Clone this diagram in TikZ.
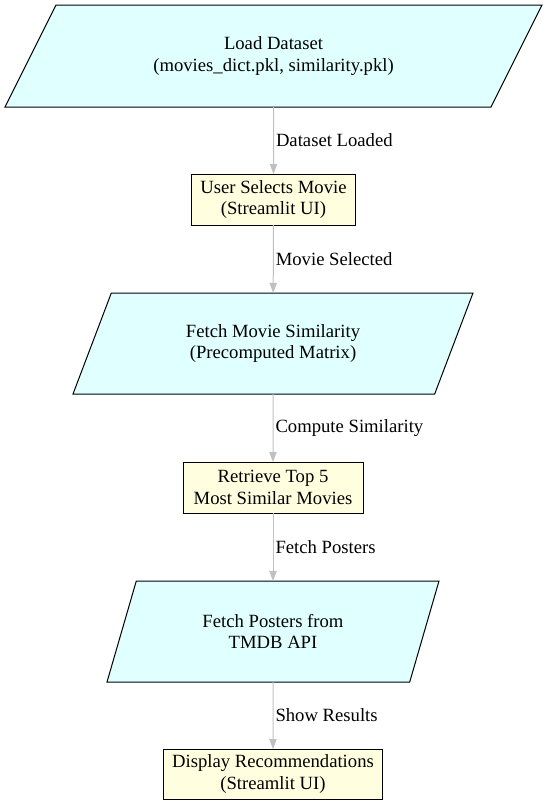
\documentclass[tikz,border=0pt]{standalone}
\usepackage{fontspec}
\setmainfont{Liberation Serif}
\usetikzlibrary{shapes.geometric,arrows.meta}
\definecolor{datacyan}{HTML}{E0FFFF}
\definecolor{stepyellow}{HTML}{FFFFE0}
\definecolor{flowgray}{HTML}{C0C0C0}
\def\flowfont{\fontsize{14}{16}\selectfont}
\tikzset{
	iobox/.style={trapezium, trapezium stretches body=true, draw=black, fill=datacyan, line width=0.75pt, outer sep=0pt, align=center, font=\flowfont},
	procbox/.style={rectangle, draw=black, fill=stepyellow, line width=0.75pt, outer sep=0pt, align=center, font=\flowfont},
	flow/.style={draw=flowgray, line width=0.75pt, -{Triangle[length=7.5pt, width=5.5pt]}},
	flowlabel/.style={anchor=west, inner sep=1.5pt, font=\flowfont}
}

\begin{document}
\begin{tikzpicture}[x=0.75pt, y=-0.75pt]
			%%%%% START %%%%%
			
			\useasboundingbox (0, 0) rectangle (547, 807);
			
			\node[iobox, trapezium left angle=42.8, trapezium right angle=137.2, minimum width=402.75pt, minimum height=76.5pt] (load) at (273.5, 56) {Load Dataset\\(movies\_dict.pkl, similarity.pkl)};
			\node[procbox, minimum width=123pt, minimum height=38.25pt] (select) at (273.5, 199.5) {User Selects Movie\\(Streamlit UI)};
			\node[iobox, trapezium left angle=50.9, trapezium right angle=129.1, minimum width=300pt, minimum height=75.75pt] (similar) at (273, 343.5) {Fetch Movie Similarity\\(Precomputed Matrix)};
			\node[procbox, minimum width=135pt, minimum height=38.25pt] (top) at (273, 487.5) {Retrieve Top 5\\Most Similar Movies};
			\node[iobox, trapezium left angle=56, trapezium right angle=124, minimum width=249pt, minimum height=75.75pt] (posters) at (273, 631.5) {Fetch Posters from\\TMDB API};
			\node[procbox, minimum width=164.25pt, minimum height=37.5pt] (display) at (273, 774) {Display Recommendations\\(Streamlit UI)};
			
			\draw[flow] (load) -- node[flowlabel] {Dataset Loaded} (select);
			\draw[flow] (select) -- node[flowlabel] {Movie Selected} (similar);
			\draw[flow] (similar) -- node[flowlabel] {Compute Similarity} (top);
			\draw[flow] (top) -- node[flowlabel] {Fetch Posters} (posters);
			\draw[flow] (posters) -- node[flowlabel] {Show Results} (display);
			
			%%%%% END %%%%%
\end{tikzpicture}
\end{document}
